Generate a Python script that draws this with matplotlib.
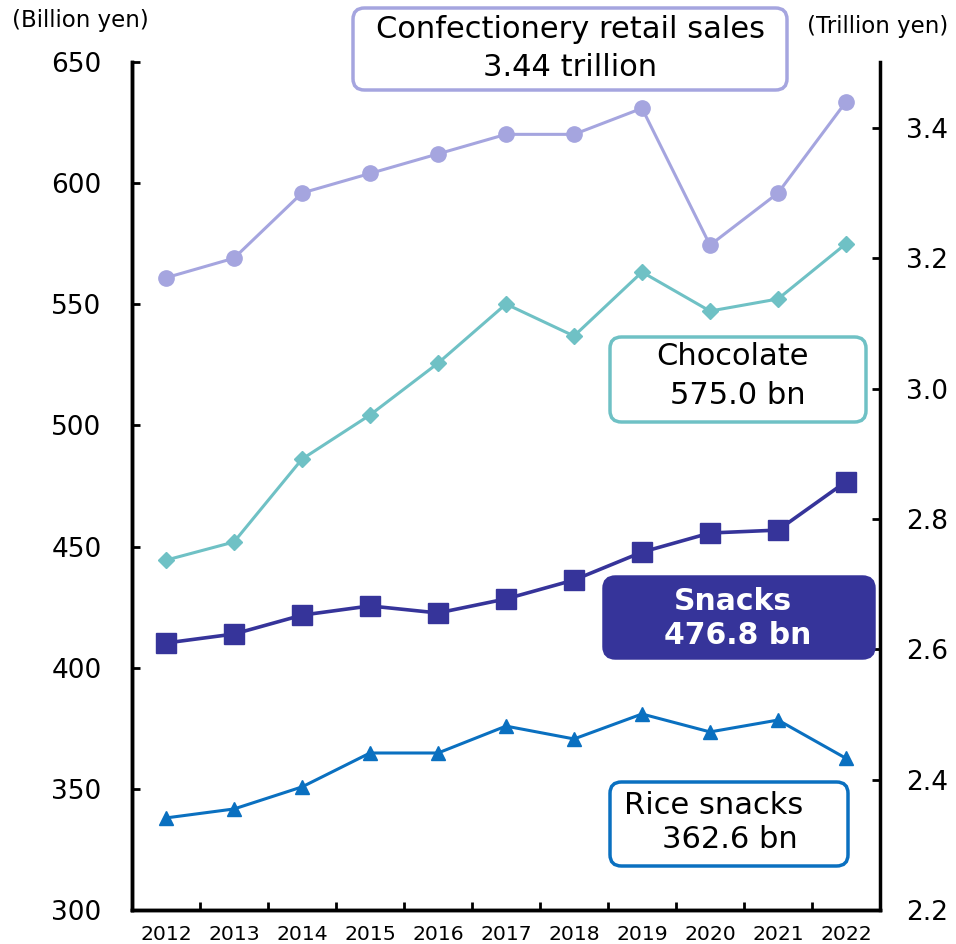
import matplotlib
matplotlib.use("Agg")
import matplotlib.pyplot as plt
from matplotlib.patches import FancyBboxPatch

years = ["2012", "2013", "2014", "2015", "2016", "2017", "2018", "2019", "2020", "2021", "2022"]
confectionery = [3.17, 3.20, 3.30, 3.33, 3.36, 3.39, 3.39, 3.43, 3.22, 3.30, 3.44]
chocolate = [444.4, 451.9, 486.1, 504.3, 525.7, 550.1, 536.9, 563.3, 547.2, 552.2, 575.0]
snacks = [410.2, 413.9, 421.7, 425.5, 422.6, 428.4, 436.2, 447.7, 455.6, 456.8, 476.8]
rice_snacks = [338.0, 341.7, 350.8, 364.8, 364.8, 375.9, 370.6, 380.9, 373.5, 378.4, 362.6]
left_ticks = [300, 350, 400, 450, 500, 550, 600, 650]
right_ticks = [2.2, 2.4, 2.6, 2.8, 3.0, 3.2, 3.4]

c_conf = "#a5a5df"
c_choc = "#6fc1c5"
c_snack = "#36349a"
c_rice = "#0a70c0"

plt.rcParams['font.family'] = ['DejaVu Sans']
W, H = 956, 944
fig = plt.figure(figsize=(W / 100, H / 100), dpi=100)
ax = fig.add_axes([132 / W, 1 - 910 / H, (880 - 132) / W, (910 - 62) / H])
ax2 = ax.twinx()

x = list(range(len(years)))
ax.plot(x, chocolate, color=c_choc, lw=2.2, marker="D", ms=8, zorder=3)
ax.plot(x, snacks, color=c_snack, lw=2.6, marker="s", ms=14.5, zorder=3)
ax.plot(x, rice_snacks, color=c_rice, lw=2.2, marker="^", ms=10.5, zorder=3)
ax2.plot(x, confectionery, color=c_conf, lw=2.2, marker="o", ms=11, zorder=3)

ax.set_xlim(-0.5, len(years) - 0.5)
ax.set_ylim(300, 650)
ax2.set_ylim(2.2, 3.501)
ax.set_yticks(left_ticks)
ax.set_yticklabels([str(v) for v in left_ticks])
ax2.set_yticks(right_ticks)
ax2.set_yticklabels([f"{v:.1f}" for v in right_ticks])

ax.set_xticks([i + 0.5 for i in range(len(years) - 1)])
ax.set_xticklabels([])
ax.set_xticks(x, minor=True)
ax.set_xticklabels(years, minor=True, fontsize=14.7)
ax.tick_params(axis="x", which="major", direction="in", length=6, width=2)
ax.tick_params(axis="x", which="minor", length=0, pad=11)
ax.tick_params(axis="y", direction="in", length=6, width=2, labelsize=19, pad=22)
ax2.tick_params(axis="y", direction="in", length=6, width=2, labelsize=19, pad=19)

for a in (ax, ax2):
    a.spines["top"].set_visible(False)
    for s in ("left", "right", "bottom"):
        a.spines[s].set_linewidth(2.5)
ax.spines["right"].set_visible(False)

fig.text(12 / W, 1 - 20 / H, "(Billion yen)", fontsize=16.5, ha="left", va="center")
fig.text(948 / W, 1 - 26 / H, "(Trillion yen)", fontsize=16.5, ha="right", va="center")

def box(x0, y0, x1, y1, ec, fc, lw=2.5):
    p = FancyBboxPatch((x0 / W, 1 - y1 / H), (x1 - x0) / W, (y1 - y0) / H,
                       boxstyle="round,pad=0,rounding_size=0.012",
                       transform=fig.transFigure, ec=ec, fc=fc, lw=lw, zorder=5)
    fig.add_artist(p)

def txt(xc, yc, s, color="black", weight="normal", ha="center", fs=22):
    fig.text(xc / W, 1 - yc / H, s, fontsize=fs, ha=ha, va="center",
             color=color, fontweight=weight, zorder=6)

box(353, 8, 787, 90, c_conf, "white")
txt(570, 29, "Confectionery retail sales")
txt(570, 68, "3.44 trillion")

box(610, 337, 866, 422, c_choc, "white")
txt(732, 357, "Chocolate")
txt(738, 396, "575.0 bn")

box(604, 577, 874, 658, c_snack, c_snack)
txt(733, 601, "Snacks", color="white", weight="bold", fs=21.5)
txt(738, 635, "476.8 bn", color="white", weight="bold", fs=21.5)

box(610, 782, 848, 866, c_rice, "white")
txt(624, 806, "Rice snacks", ha="left")
txt(730, 840, "362.6 bn")

fig.savefig("out.png", dpi=100)
